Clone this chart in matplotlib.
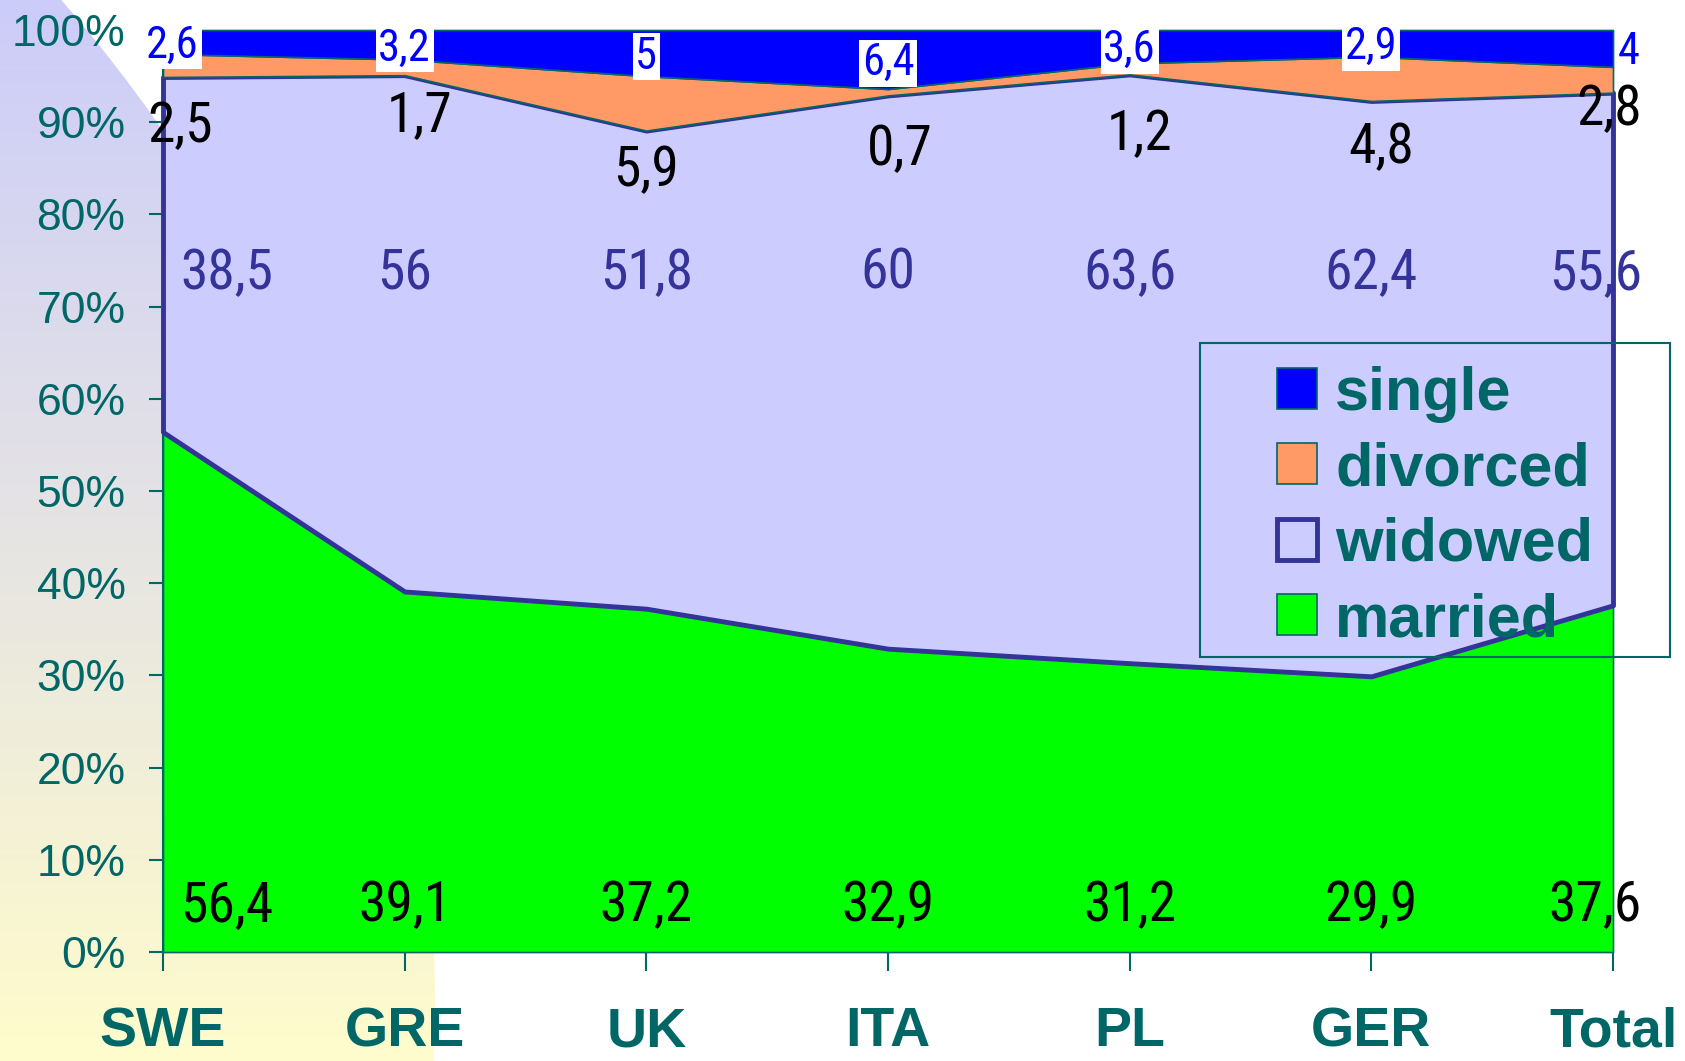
import matplotlib
matplotlib.use("Agg")
import matplotlib.pyplot as plt
import numpy as np
from matplotlib.colors import LinearSegmentedColormap
from matplotlib.patches import Circle, Patch, Rectangle

# marital status by country, per cent of each group
countries = ["SWE", "GRE", "UK", "ITA", "PL", "GER", "Total"]
married = [56.4, 39.1, 37.2, 32.9, 31.2, 29.9, 37.6]
widowed = [38.5, 56, 51.8, 60, 63.6, 62.4, 55.6]
divorced = [2.5, 1.7, 5.9, 0.7, 1.2, 4.8, 2.8]
single = [2.6, 3.2, 5, 6.4, 3.6, 2.9, 4]
y_ticks = [0, 10, 20, 30, 40, 50, 60, 70, 80, 90, 100]

TEAL = "#006666"
NAVY = "#333399"
NARROW = ["Roboto Condensed", "DejaVu Sans"]

# (dx, dy) nudges for the divorced labels, which sit under the widowed edge
divorced_nudge = [(0.07, -5.4), (0.06, -4.4), (0.0, -4.3), (0.05, -5.9),
                  (0.04, -6.5), (0.04, -5.1), (0.12, -1.8)]


def fmt(v):
    return f"{v:g}".replace(".", ",")


fig = plt.figure(figsize=(16.85, 10.61), dpi=100)

# decorative backdrop: lavender-to-yellow gradient inside a big arc on the left
bg = fig.add_axes([0, 0, 1, 1], zorder=-1)
bg.set_xlim(0, 1685)
bg.set_ylim(1061, 0)
bg.axis("off")
cmap = LinearSegmentedColormap.from_list("bg", ["#CCCCFA", "#FFFCCC"])
grad = np.linspace(0, 1, 256).reshape(-1, 1)
im = bg.imshow(grad, cmap=cmap, extent=[0, 1685, 1061, 0], aspect="auto")
arc = Circle((-1090, 1000), 1525, transform=bg.transData, facecolor="none", edgecolor="none")
bg.add_patch(arc)
im.set_clip_path(arc)

ax = fig.add_axes([163 / 1685, 1 - 952 / 1061, 1450 / 1685, 922 / 1061])
ax.patch.set_alpha(0)

x = np.arange(len(countries))
data = np.array([married, widowed, divorced, single], dtype=float)
pct = data / data.sum(axis=0) * 100
tops = np.cumsum(pct, axis=0)
bottoms = tops - pct

styles = [
    dict(facecolor="#00FF00", edgecolor=TEAL, linewidth=1.2),
    dict(facecolor="#CCCCFF", edgecolor=NAVY, linewidth=3.5),
    dict(facecolor="#FF9966", edgecolor=TEAL, linewidth=1.2),
    dict(facecolor="#0000FF", edgecolor=TEAL, linewidth=1.2),
]
for k, st in enumerate(styles):
    ax.fill_between(x, bottoms[k], tops[k], clip_on=False, zorder=2 + k, **st)

ax.set_xlim(0, len(countries) - 1)
ax.set_ylim(0, 100)
ax.set_yticks(y_ticks)
ax.set_yticklabels([f"{t}%" for t in y_ticks])
ax.set_xticks(x)
ax.set_xticklabels(countries)
for lab in ax.get_yticklabels():
    lab.set_fontfamily("Liberation Sans")
    lab.set_fontsize(32)
    lab.set_color(TEAL)
for lab in ax.get_xticklabels():
    lab.set_fontfamily("Liberation Sans")
    lab.set_fontsize(40)
    lab.set_fontweight("bold")
    lab.set_color(TEAL)
ax.tick_params(axis="y", length=10, width=1.5, color=TEAL, pad=17)
ax.tick_params(axis="x", length=14, width=1.5, color=TEAL, pad=25)
for side in ["top", "right"]:
    ax.spines[side].set_visible(False)
for side in ["left", "bottom"]:
    ax.spines[side].set_color(TEAL)
    ax.spines[side].set_linewidth(1.5)
    ax.spines[side].set_zorder(1)

# value labels; the first and last columns are nudged inside/outside the plot
last = len(countries) - 1
for i in x:
    if i == 0:
        mx, mha = 0.07, "left"
    elif i == last:
        mx, mha = 6.12, "right"
    else:
        mx, mha = i, "center"
    ax.text(mx, 5.0, fmt(married[i]), ha=mha, va="center", fontsize=40,
            family=NARROW, color="black", zorder=10)
    ax.text(mx, 73.6, fmt(widowed[i]), ha=mha, va="center", fontsize=40,
            family=NARROW, color=NAVY, zorder=10)

    ddx, ddy = divorced_nudge[i]
    dha = "right" if i == last else "center"
    dx = 6.12 if i == last else i + ddx
    ax.text(dx, tops[1][i] + ddy, fmt(divorced[i]), ha=dha, va="center", fontsize=40,
            family=NARROW, color="black", zorder=10, clip_on=False)

    sx, sha = (0.04, "center") if i == 0 else ((6.02, "left") if i == last else (i, "center"))
    sy = (bottoms[3][i] + tops[3][i]) / 2 - 0.4
    ax.text(sx, sy, fmt(single[i]), ha=sha, va="center", fontsize=32,
            family=NARROW, color="#0000FF", zorder=11, clip_on=False,
            bbox=dict(facecolor="white" if i != last else "none", edgecolor="none", pad=2))

# legend
handles = [
    Patch(facecolor="#0000FF", edgecolor=TEAL, linewidth=1.2),
    Patch(facecolor="#FF9966", edgecolor=TEAL, linewidth=1.2),
    Patch(facecolor="#CCCCFF", edgecolor=NAVY, linewidth=3.5),
    Patch(facecolor="#00FF00", edgecolor=TEAL, linewidth=1.2),
]
leg = fig.legend(handles, ["single", "divorced", "widowed", "married"],
                 loc="upper left", bbox_to_anchor=(1277 / 1685, 1 - 366 / 1061),
                 bbox_transform=fig.transFigure, frameon=False,
                 prop=dict(family="Liberation Sans", weight="bold", size=44),
                 labelcolor=TEAL, handlelength=0.65, handleheight=0.65,
                 handletextpad=0.3, labelspacing=0.30, borderpad=0, borderaxespad=0)
leg.set_zorder(20)
fig.add_artist(Rectangle((1200 / 1685, 1 - 657 / 1061), 470 / 1685, 314 / 1061,
                         transform=fig.transFigure, fill=False, edgecolor=TEAL,
                         linewidth=1.5, zorder=19))

fig.savefig("out.png", dpi=100)
